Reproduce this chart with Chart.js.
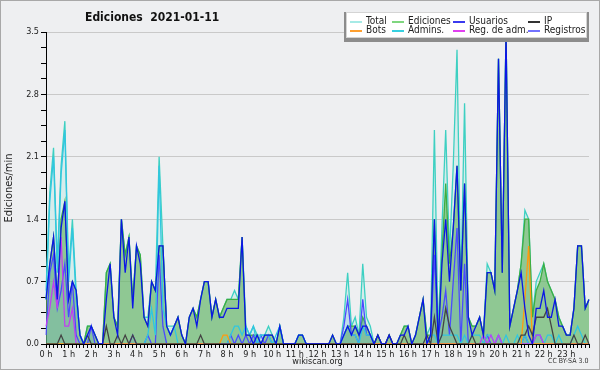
<!DOCTYPE html>
<html>
<head>
<meta charset="utf-8">
<script src="https://cdn.jsdelivr.net/npm/chart.js@4"></script>
<style>
body { margin: 0; background: #fff; }
#wrap { position: relative; width: 600px; height: 370px; background: #eeeff1; font-family: 'DejaVu Sans Condensed', 'DejaVu Sans', sans-serif; }
#chart { position: absolute; left: 0; top: 0; }
.frame { position: absolute; left: 0; top: 0; right: 0; bottom: 0; border: 1px solid #a8a8a8; pointer-events: none; }
.title { position: absolute; left: 85px; top: 10px; font-size: 12px; font-weight: bold; color: #111; white-space: pre; }
.legend { position: absolute; left: 346px; top: 12px; width: 241px; height: 26px; background: #fff; border: 1px solid #d4d4d4; box-shadow: 0 2px 0 2px #8c8c8c; box-sizing: border-box; }
.item { position: absolute; font-size: 10px; line-height: 10px; color: #222; white-space: nowrap; }
.item span { position: absolute; left: 0; top: 5px; width: 12px; height: 1.5px; }
.item b { font-weight: normal; padding-left: 16px; }
.cc { position: absolute; left: 548px; top: 357px; font-size: 7px; color: #333; }
</style>
</head>
<body>
<div id="wrap">
  <canvas id="chart" width="600" height="370"></canvas>
  <div class="title">Ediciones  2021-01-11</div>
  <div class="legend" id="legend"></div>
  <div class="cc">CC BY-SA 3.0</div>
  <div class="frame"></div>
</div>
<script>
// tick labels
const hourLabels = ['0 h', '1 h', '2 h', '3 h', '4 h', '5 h', '6 h', '7 h', '8 h', '9 h', '10 h', '11 h',
    '12 h', '13 h', '14 h', '15 h', '16 h', '17 h', '18 h', '19 h', '20 h', '21 h', '22 h', '23 h'];
const yLabels = ['0.0', '0.7', '1.4', '2.1', '2.8', '3.5'];

// ediciones/min, one value every 10 minutes (6 per hour, plus 24:00)
const total = [
    0.6, 1.7, 2.2, 0.9, 2.0, 2.5,   0.8, 1.4, 0.6, 0.1, 0, 0.2,   0.2, 0.1, 0, 0, 0.8, 0.9,
    0.3, 0.2, 1.4, 1.0, 1.2, 0.5,   1.1, 1.0, 0.3, 0.3, 0.7, 0.6,   2.1, 1.1, 0.2, 0.2, 0.2, 0.3,
    0.1, 0, 0.3, 0.4, 0.3, 0.5,     0.7, 0.7, 0.3, 0.5, 0.3, 0.4,   0.5, 0.5, 0.6, 0.5, 1.2, 0.2,
    0.1, 0.2, 0.1, 0.1, 0.1, 0.2,   0.1, 0, 0.2, 0, 0, 0,           0, 0.1, 0.1, 0, 0, 0,
    0, 0, 0, 0, 0.1, 0,             0, 0.3, 0.8, 0.2, 0.3, 0.1,     0.9, 0.3, 0.2, 0, 0.1, 0,
    0, 0.1, 0, 0, 0.1, 0.2,         0.2, 0, 0.1, 0.3, 0.5, 0.1,     0.2, 2.4, 0.1, 1.3, 2.4, 1.0,
    2.0, 3.3, 0.6, 2.7, 0.3, 0.2,   0.2, 0.3, 0.1, 0.9, 0.8, 0.6,   3.2, 0.8, 3.5, 0.2, 0.4, 0.6,
    0.9, 1.5, 1.4, 0.3, 0.7, 0.8,   0.9, 0.7, 0.6, 0.5, 0.3, 0.2,   0.1, 0.1, 0.4, 1.1, 1.1, 0.4,
    0.5
];
const ediciones = [
    0.5, 0.9, 1.2, 0.5, 1.4, 1.6,   0.5, 0.7, 0.6, 0.1, 0, 0.2,     0.2, 0.1, 0, 0, 0.8, 0.9,
    0.3, 0.2, 1.4, 1.0, 1.2, 0.5,   1.1, 1.0, 0.3, 0.2, 0.7, 0.6,   1.1, 1.1, 0.2, 0.1, 0.2, 0.3,
    0.1, 0, 0.3, 0.4, 0.3, 0.5,     0.7, 0.7, 0.3, 0.5, 0.3, 0.4,   0.5, 0.5, 0.5, 0.5, 1.2, 0.1,
    0.1, 0.1, 0.1, 0, 0.1, 0.1,     0.1, 0, 0.2, 0, 0, 0,           0, 0.1, 0.1, 0, 0, 0,
    0, 0, 0, 0, 0.1, 0,             0, 0.1, 0.2, 0.2, 0.2, 0.1,     0.3, 0.2, 0.1, 0, 0.1, 0,
    0, 0.1, 0, 0, 0.1, 0.2,         0.2, 0, 0.1, 0.3, 0.5, 0.1,     0.1, 1.4, 0, 1.0, 1.8, 0.9,
    1.3, 2.0, 0.6, 1.8, 0.3, 0.2,   0.2, 0.3, 0.1, 0.8, 0.8, 0.6,   3.2, 0.8, 3.5, 0.2, 0.4, 0.6,
    0.9, 1.4, 1.4, 0.3, 0.6, 0.7,   0.9, 0.7, 0.6, 0.5, 0.3, 0.2,   0.1, 0.1, 0.4, 1.1, 1.1, 0.4,
    0.5
];
const usuarios = [
    0.5, 0.9, 1.2, 0.5, 1.3, 1.6,   0.5, 0.7, 0.6, 0.1, 0, 0.1,     0.2, 0.1, 0, 0, 0.5, 0.9,
    0.3, 0.1, 1.4, 0.8, 1.2, 0.4,   1.1, 0.9, 0.3, 0.2, 0.7, 0.6,   1.1, 1.1, 0.2, 0.1, 0.2, 0.3,
    0.1, 0, 0.3, 0.4, 0.2, 0.5,     0.7, 0.7, 0.3, 0.5, 0.3, 0.3,   0.4, 0.4, 0.4, 0.4, 1.2, 0.1,
    0.1, 0, 0.1, 0, 0.1, 0.1,       0.1, 0, 0.2, 0, 0, 0,           0, 0.1, 0.1, 0, 0, 0,
    0, 0, 0, 0, 0.1, 0,             0, 0.1, 0.2, 0.1, 0.2, 0.1,     0.2, 0.2, 0.1, 0, 0.1, 0,
    0, 0.1, 0, 0, 0.1, 0.1,         0.2, 0, 0.1, 0.3, 0.5, 0,       0.1, 1.4, 0, 0.9, 1.4, 0.7,
    1.3, 2.0, 0.6, 1.8, 0.3, 0.1,   0.2, 0.3, 0.1, 0.8, 0.8, 0.6,   3.2, 0.8, 3.5, 0.2, 0.4, 0.6,
    0.8, 0.4, 0.1, 0, 0.4, 0.4,     0.6, 0.3, 0.3, 0.5, 0.2, 0.2,   0.1, 0.1, 0.4, 1.1, 1.1, 0.4,
    0.5
];
const ip = [
    0, 0, 0, 0, 0.1, 0,     0, 0, 0, 0, 0, 0.1,       0, 0, 0, 0, 0.2, 0,
    0, 0.1, 0, 0.1, 0, 0.1, 0, 0, 0, 0, 0, 0,         0, 0, 0, 0, 0, 0,
    0, 0, 0, 0, 0, 0.1,     0, 0, 0, 0, 0, 0,         0, 0, 0, 0, 0, 0,
    0, 0, 0, 0, 0, 0,       0, 0, 0, 0, 0, 0,         0, 0, 0, 0, 0, 0,
    0, 0, 0, 0, 0, 0,       0, 0, 0, 0, 0, 0,         0, 0, 0, 0, 0.1, 0,
    0, 0.1, 0, 0, 0, 0.1,   0, 0, 0, 0, 0, 0.1,       0, 0.3, 0, 0.1, 0.4, 0.2,
    0.1, 0, 0, 0, 0, 0.1,   0, 0, 0, 0, 0, 0,         0, 0, 0, 0, 0, 0,
    0.1, 0.1, 0.2, 0.1, 0.3, 0.3,   0.3, 0.4, 0.2, 0, 0, 0,   0, 0, 0.1, 0, 0, 0.1,
    0
];
const bots = [
    0, 0, 0, 0, 0, 0,   0, 0, 0, 0, 0, 0,   0, 0, 0, 0, 0, 0,
    0, 0, 0, 0, 0, 0,   0, 0, 0, 0, 0, 0,   0, 0, 0, 0, 0, 0,
    0, 0, 0, 0, 0, 0,   0, 0, 0, 0, 0, 0.1, 0.1, 0, 0, 0, 0, 0,
    0, 0, 0, 0, 0, 0,   0, 0, 0, 0, 0, 0,   0, 0, 0, 0, 0, 0,
    0, 0, 0, 0, 0, 0,   0, 0, 0, 0, 0, 0,   0, 0, 0, 0, 0, 0,
    0, 0, 0, 0, 0, 0,   0, 0, 0, 0, 0, 0,   0, 0, 0, 0, 0, 0,
    0, 0, 0, 0, 0, 0,   0, 0, 0, 0, 0, 0,   0, 0, 0, 0, 0, 0,
    0, 0.5, 1.1, 0, 0, 0,   0, 0, 0, 0, 0, 0,   0, 0, 0, 0, 0, 0,
    0
];
const admins = [
    0.5, 1.6, 2.1, 0.8, 1.9, 2.4,   0.7, 1.3, 0.5, 0.1, 0, 0.1,   0, 0, 0, 0, 0, 0,
    0, 0, 0, 0, 0, 0,               0, 0, 0, 0.1, 0.4, 0.1,       2.0, 0.4, 0.2, 0.1, 0.2, 0,
    0, 0, 0, 0, 0, 0,               0, 0, 0, 0, 0, 0,             0, 0.1, 0.2, 0.2, 0.1, 0.2,
    0.1, 0.2, 0, 0.1, 0.1, 0.1,     0, 0.1, 0.2, 0, 0, 0,         0, 0.1, 0.1, 0, 0, 0,
    0, 0, 0, 0, 0, 0,               0, 0.1, 0.2, 0.1, 0.1, 0,     0.2, 0.1, 0.1, 0, 0, 0,
    0, 0, 0, 0, 0, 0,               0, 0, 0, 0, 0, 0,             0.1, 0.1, 0, 0.1, 0.1, 0.1,
    0.1, 0.1, 0, 0.1, 0, 0.1,       0.1, 0.1, 0, 0.1, 0.1, 0,     0.1, 0, 0.1, 0, 0, 0.1,
    0, 0.1, 0, 0, 0.1, 0.1,         0, 0.1, 0.1, 0, 0.1, 0,       0, 0, 0.1, 0.2, 0.1, 0,
    0
];
const regAdm = [
    0.2, 0.4, 0.7, 0.4, 1.2, 0.2,   0.2, 0.4, 0, 0, 0, 0,   0, 0, 0, 0, 0, 0,
    0, 0, 0, 0, 0, 0,   0, 0, 0, 0, 0, 0,   0, 0, 0, 0, 0, 0,
    0, 0, 0, 0, 0, 0,   0, 0, 0, 0, 0, 0,   0, 0, 0, 0, 0, 0,
    0, 0, 0, 0, 0, 0,   0, 0, 0, 0, 0, 0,   0, 0, 0, 0, 0, 0,
    0, 0, 0, 0, 0, 0,   0, 0, 0, 0, 0, 0,   0, 0, 0, 0, 0, 0,
    0, 0, 0, 0, 0, 0,   0, 0, 0, 0, 0, 0,   0, 0, 0, 0, 0, 0,
    0, 0, 0, 0, 0, 0,   0, 0, 0.1, 0, 0.1, 0,   0.1, 0, 0, 0, 0, 0,
    0, 0, 0, 0, 0.1, 0.1,   0, 0, 0, 0, 0, 0,   0, 0, 0, 0, 0, 0,
    0
];
const registros = [
    0.1, 0.8, 1.0, 0.4, 0.6, 0.9,   0.3, 0.7, 0.1, 0, 0, 0,   0.2, 0, 0, 0, 0, 0,
    0, 0, 0, 0, 0, 0.1,             0, 0, 0, 0.1, 0, 0,       1.0, 0.2, 0, 0, 0, 0,
    0, 0, 0, 0, 0, 0,               0, 0, 0, 0, 0, 0,         0, 0.1, 0, 0.1, 0, 0.1,
    0, 0.1, 0, 0.1, 0, 0.1,         0, 0, 0, 0, 0, 0,         0, 0, 0, 0, 0, 0,
    0, 0, 0, 0, 0, 0,               0, 0.2, 0.5, 0.1, 0.1, 0, 0.5, 0.1, 0.1, 0, 0, 0,
    0, 0, 0, 0, 0, 0,               0, 0, 0, 0, 0, 0,         0.1, 1.0, 0.1, 0.3, 0.6, 0.1,
    0.7, 1.3, 0, 0.9, 0, 0,         0, 0, 0, 0.1, 0, 0,       0.1, 0, 0, 0, 0, 0,
    0, 0.1, 0, 0, 0.1, 0.1,         0, 0, 0, 0, 0, 0,         0, 0, 0, 0, 0, 0,
    0
];

const slots = total.map((v, i) => i);

const series = [
    { label: 'Total', data: total, color: '#3dd0c2', legend: '#a6eae6', fill: 'rgba(80,220,200,0.15)', order: 8 },
    { label: 'Ediciones', data: ediciones, color: '#3cae42', legend: '#7fd67f', fill: 'rgba(105,182,100,0.65)', order: 7 },
    { label: 'Usuarios', data: usuarios, color: '#0b16e6', legend: '#3a3aee', order: 1 },
    { label: 'IP', data: ip, color: '#444444', legend: '#333333', order: 2 },
    { label: 'Bots', data: bots, color: '#ff9a10', legend: '#ffa030', order: 3 },
    { label: 'Admins.', data: admins, color: '#30c6e0', legend: '#38d0e0', order: 5 },
    { label: 'Reg. de adm.', data: regAdm, color: '#c040f0', legend: '#e040f0', order: 4 },
    { label: 'Registros', data: registros, color: '#4a4aff', legend: '#7272ff', fill: 'rgba(60,140,230,0.15)', order: 6 }
];

// legend box, 4 columns x 2 rows
const legendCols = [3, 45, 106, 181];
const legendRows = [3, 12];
const legendBox = document.getElementById('legend');
series.forEach((s, i) => {
    const item = document.createElement('div');
    item.className = 'item';
    item.style.left = legendCols[i % 4] + 'px';
    item.style.top = legendRows[Math.floor(i / 4)] + 'px';
    item.innerHTML = '<span style="background:' + s.legend + '"></span><b>' + s.label + '</b>';
    legendBox.appendChild(item);
});

Chart.defaults.font.family = "'DejaVu Sans Condensed', 'DejaVu Sans', sans-serif";
Chart.defaults.color = '#222';

const chart = new Chart(document.getElementById('chart').getContext('2d'), {
    type: 'line',
    data: {
        labels: slots,
        datasets: series.map(s => ({
            label: s.label,
            data: s.data,
            borderColor: s.color,
            backgroundColor: s.fill || s.color,
            fill: s.fill ? 'origin' : false,
            borderWidth: 1.3,
            pointRadius: 0,
            tension: 0,
            order: s.order
        }))
    },
    options: {
        responsive: false,
        animation: false,
        layout: { padding: { top: 32, right: 11, bottom: 0, left: 0 } },
        plugins: {
            legend: { display: false },
            tooltip: { enabled: false },
            title: { display: false }
        },
        scales: {
            x: {
                type: 'category',
                offset: false,
                border: { color: '#000', width: 1 },
                grid: { drawOnChartArea: false, tickLength: 4, tickColor: '#000' },
                ticks: {
                    autoSkip: false,
                    maxRotation: 0,
                    minRotation: 0,
                    padding: 1,
                    font: { size: 9 },
                    callback: (value, index) => (index % 6 === 0 && index / 6 < hourLabels.length) ? hourLabels[index / 6] : ''
                },
                title: { display: true, text: 'wikiscan.org', font: { size: 9 }, padding: { top: 1, bottom: 3 } },
                afterFit: scale => { scale.height = 26; }
            },
            y: {
                min: 0,
                max: 3.5,
                border: { color: '#000', width: 1 },
                grid: {
                    color: ctx => (ctx.index % 4 === 0 ? '#c9c9c9' : 'rgba(0,0,0,0)'),
                    tickColor: '#000',
                    tickLength: 5
                },
                afterBuildTicks: scale => {
                    const ticks = [];
                    for (let k = 0; k <= 20; k++) ticks.push({ value: k * 0.175 });
                    scale.ticks = ticks;
                },
                ticks: {
                    autoSkip: false,
                    padding: 2,
                    font: { size: 9 },
                    callback: (value, index) => (index % 4 === 0 ? yLabels[index / 4] : '')
                },
                title: { display: true, text: 'Ediciones/min', font: { size: 11 }, padding: { top: 3, bottom: 0 } },
                afterFit: scale => { scale.width = 46; }
            }
        }
    }
});
</script>
</body>
</html>
